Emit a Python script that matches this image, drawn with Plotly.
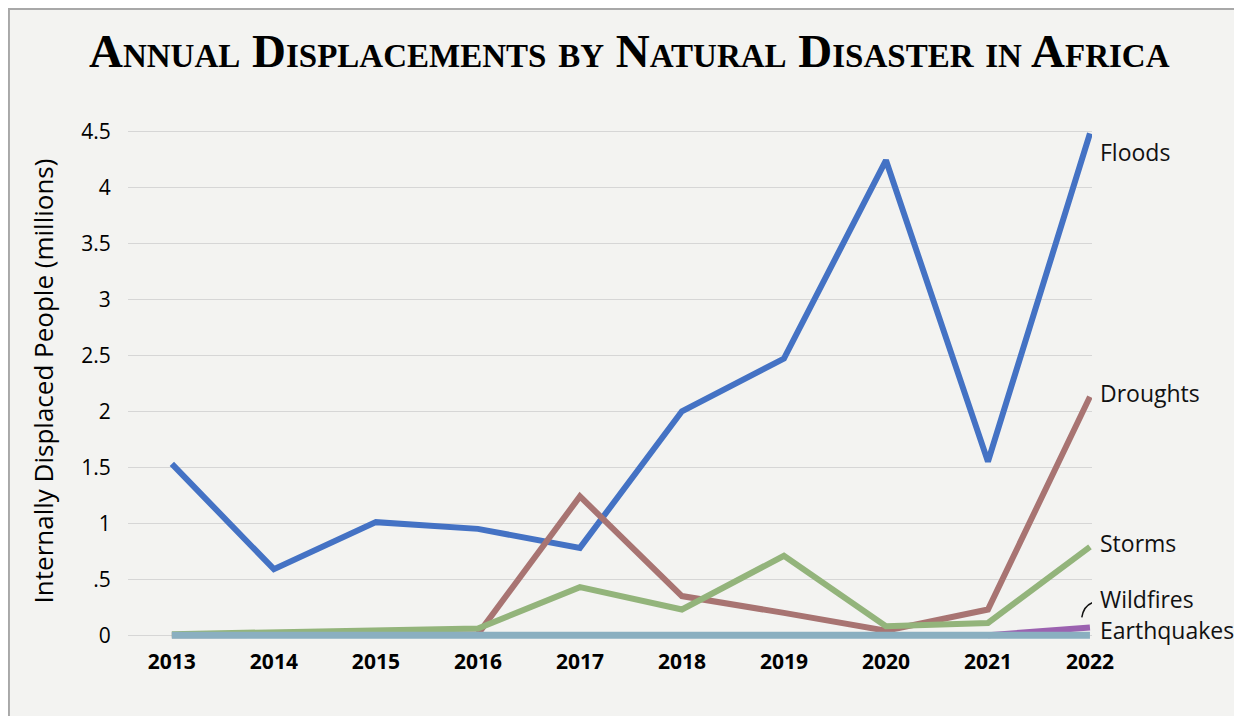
import plotly.graph_objects as go

years = [2013, 2014, 2015, 2016, 2017, 2018, 2019, 2020, 2021, 2022]
floods = [1.53, 0.59, 1.01, 0.95, 0.78, 2.00, 2.47, 4.24, 1.55, 4.48]
droughts = [0.0, 0.0, 0.0, 0.01, 1.24, 0.35, 0.20, 0.04, 0.23, 2.13]
storms = [0.01, 0.03, 0.05, 0.06, 0.43, 0.23, 0.71, 0.08, 0.11, 0.79]
wildfires = [None, None, None, None, None, None, None, None, 0.0, 0.07]
earthquakes = [0.0] * 10

series = [
    ("Floods", floods, "#4472c4", 6, 4.31),
    ("Droughts", droughts, "#a87472", 6, 2.16),
    ("Storms", storms, "#93b47b", 6, 0.82),
    ("Wildfires", wildfires, "#9b62b0", 6, 0.32),
    ("Earthquakes", earthquakes, "#8aafc0", 7, 0.045),
]

y_ticks = [0, 0.5, 1, 1.5, 2, 2.5, 3, 3.5, 4, 4.5]
y_ticktext = ["0", ".5", "1", "1.5", "2", "2.5", "3", "3.5", "4", "4.5"]

BG = "#f3f3f1"
SANS = "Open Sans"

fig = go.Figure()
for name, vals, color, w, _ in series:
    fig.add_trace(go.Scatter(x=years, y=vals, mode="lines", name=name,
                             line=dict(color=color, width=w), connectgaps=False))

for name, vals, color, w, ly in series:
    fig.add_annotation(x=1.0, xshift=6, y=ly, xref="paper", yref="y", text=name,
                       showarrow=False, xanchor="left", yanchor="middle",
                       font=dict(family=SANS, size=23, color="#111"))

# connector for Wildfires label
fig.add_shape(type="path", xref="x", yref="y",
              path="M 2021.92,0.16 Q 2021.94,0.27 2022.04,0.295",
              line=dict(color="#111", width=1.5))

# frame line
fig.add_shape(type="rect", xref="paper", yref="paper", x0=-0.1235, x1=1.3,
              y0=-0.3, y1=1.2126, fillcolor="rgba(0,0,0,0)",
              line=dict(color="#a8a8a8", width=2), layer="below")

fig.update_layout(
    width=1242, height=716,
    margin=dict(l=120, r=158, t=112, b=82),
    paper_bgcolor=BG, plot_bgcolor=BG,
    showlegend=False,
    title=dict(text="Annual Displacements by Natural Disaster in Africa",
               x=0.52, xref="paper", xanchor="center", y=0.941, yanchor="middle",
               font=dict(family="Liberation Serif", size=47, color="#000",
                         weight="bold", variant="small-caps")),
    xaxis=dict(range=[2012.57, 2022.02], tickmode="array", tickvals=years,
               ticktext=[str(y) for y in years], showgrid=False, zeroline=False,
               showline=False, ticks="outside", ticklen=1, tickcolor="rgba(0,0,0,0)",
               tickfont=dict(family=SANS, size=21, color="#000", weight="bold")),
    yaxis=dict(range=[-0.06, 4.6], tickmode="array", tickvals=y_ticks,
               ticktext=y_ticktext, showgrid=True, gridcolor="#d6d6d6", gridwidth=1,
               zeroline=False, showline=False, ticks="outside", ticklen=12,
               tickcolor="rgba(0,0,0,0)",
               tickfont=dict(family=SANS, size=21, color="#000"),
               title=dict(text="Internally Displaced People (millions)",
                          font=dict(family=SANS, size=26, color="#000"), standoff=20)),
)

fig.write_html("out.html")
